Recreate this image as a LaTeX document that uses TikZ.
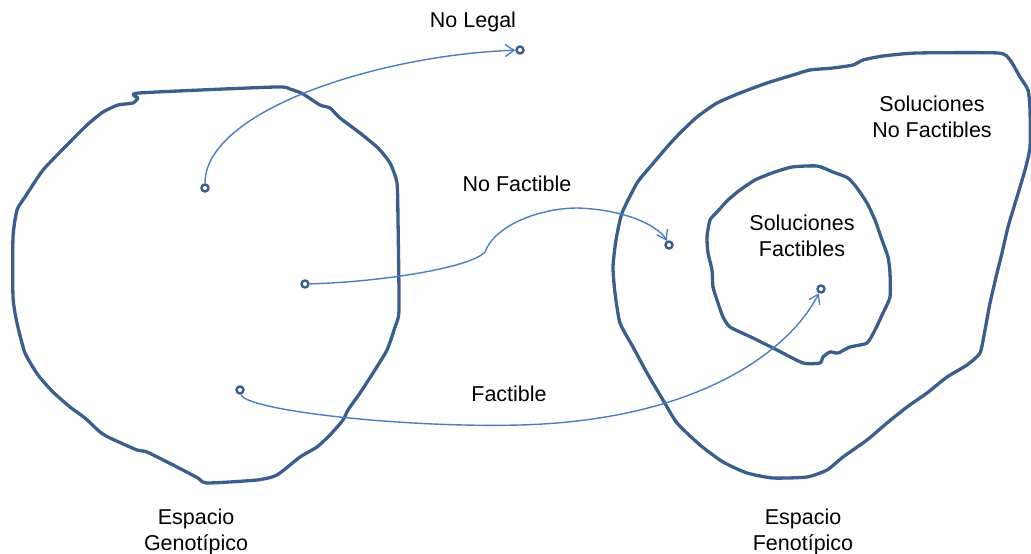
\documentclass[tikz,border=0pt]{standalone}
\usepackage{fontspec}
\setmainfont{Liberation Sans}
\usetikzlibrary{arrows.meta}

\definecolor{outline}{RGB}{58,95,140}
\definecolor{arrowblue}{RGB}{74,126,193}

\begin{document}
\begin{tikzpicture}[x=1pt,y=-1pt]

    \tikzset{
      blob/.style={
        color={outline},
        line width=3.3pt,
        line join=round,
      },
      arrowline/.style={
        color={arrowblue},
        line width=1.4pt,
        >={Straight Barb[length=9pt,width=12pt,line width=1.3pt]},
        ->,
      },
      dot/.style={
        circle,
        draw={outline},
        fill=white,
        line width=2.4pt,
        inner sep=0pt,
        minimum size=7pt,
      },
      lbl/.style={
        align=center,
        font=\fontsize{21.5}{26}\selectfont,
      },
    }

	\useasboundingbox (0,0) rectangle (1031,554);

	% espacio genotipico
	\draw[blob] plot[smooth cycle,tension=0.35] coordinates {(139,93) (275,87) (290,89) (303,94) (320,105) (330,108) (340,118) (360,133) (378,148) (390,163) (397,183) (398,220) (399,310) (395,327) (387,350) (373,373) (360,393) (348,410) (343,420) (330,435) (317,447) (300,457) (277,475) (257,480) (207,483) (198,478) (177,467) (147,452) (137,450) (110,438) (100,432) (85,418) (70,407) (53,392) (38,375) (25,353) (17,323) (13,297) (13,237) (17,210) (25,197) (43,170) (67,145) (87,125) (103,112) (118,105) (133,103) (138,98)};

	% espacio fenotipico
	\draw[blob] plot[smooth cycle,tension=0.35] coordinates {(998,53) (1010,60) (1020,77) (1028,90) (1030,110) (1030,147) (1025,170) (1017,197) (1008,227) (1002,253) (997,273) (990,303) (985,330) (980,353) (967,365) (947,377) (927,393) (907,407) (887,423) (867,440) (843,457) (827,470) (807,477) (773,478) (747,473) (723,462) (700,445) (677,423) (663,400) (647,373) (633,347) (620,323) (615,293) (613,267) (616,240) (622,213) (637,183) (650,167) (667,147) (680,133) (697,117) (717,103) (740,93) (767,83) (793,75) (810,70) (833,68) (853,65) (863,60) (883,56) (917,53)};

	% soluciones factibles
	\draw[blob] plot[smooth cycle,tension=0.35] coordinates {(792,167) (817,166) (833,172) (848,178) (857,188) (867,203) (875,220) (882,240) (888,257) (890,273) (890,297) (883,313) (875,330) (867,343) (850,347) (838,353) (830,352) (823,357) (820,363) (803,363) (777,350) (753,338) (730,327) (723,317) (718,303) (713,287) (712,270) (708,253) (707,237) (710,220) (717,212) (728,200) (740,190) (755,180) (772,173)};

	\node[dot] (geno-a) at (205,188) {};
	\node[dot] (geno-b) at (305,284) {};
	\node[dot] (geno-c) at (240,390) {};
	\node[dot] (nolegal) at (520,50) {};
	\node[dot] (nofact) at (669,245) {};
	\node[dot] (fact) at (821,289) {};

	\node[lbl] (nolegal-lbl) at (473,22) {No Legal};
	\node[lbl] (nofact-lbl) at (517,184) {No Factible};
	\node[lbl] (fact-lbl) at (509,394) {Factible};
	\node[lbl] (solnf-lbl) at (932,117) {Soluciones\\No Factibles};
	\node[lbl] (solf-lbl) at (802,236) {Soluciones\\Factibles};
	\node[lbl] (geno-lbl) at (196,532) {Espacio\\Genotípico};
	\node[lbl] (feno-lbl) at (803,532) {Espacio\\Fenotípico};

	\draw[arrowline] (geno-a) .. controls (205,110) and (380,55) .. (nolegal);
	\draw[arrowline] (geno-b) .. controls (380,282) and (470,268) .. (485,252)
	    .. controls (495,225) and (540,208) .. (578,208)
	    .. controls (630,210) and (660,228) .. (nofact);
	\draw[arrowline] (geno-c) .. controls (245,410) and (400,428) .. (520,425)
	    .. controls (700,420) and (790,350) .. (fact);

\end{tikzpicture}
\end{document}
